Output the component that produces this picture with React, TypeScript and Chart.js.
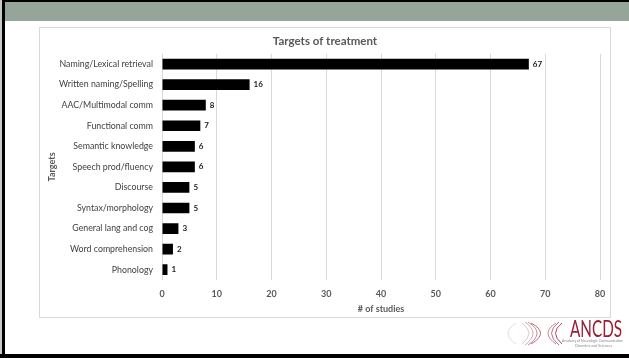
import React, { useEffect, useRef } from "react";
import { Chart, registerables } from "chart.js";

Chart.register(...registerables);

const categories = [
  "Naming/Lexical retrieval",
  "Written naming/Spelling",
  "AAC/Multimodal comm",
  "Functional comm",
  "Semantic knowledge",
  "Speech prod/fluency",
  "Discourse",
  "Syntax/morphology",
  "General lang and cog",
  "Word comprehension",
  "Phonology",
];
const studyCounts = [67, 16, 8, 7, 6, 6, 5, 5, 3, 2, 1];
const chartTitle = "Targets of treatment";
const xAxisTitle = "# of studies";
const yAxisTitle = "Targets";
const xMin = 0;
const xMax = 80;
const xStep = 10;

const FONT = "Lato, 'Open Sans', sans-serif";

const valueLabelPlugin = {
  id: "valueLabels",
  afterDatasetsDraw(chart: any) {
    const { ctx } = chart;
    const meta = chart.getDatasetMeta(0);
    ctx.save();
    ctx.font = `bold 8px ${FONT}`;
    ctx.fillStyle = "#1a1a1a";
    ctx.textAlign = "left";
    ctx.textBaseline = "middle";
    meta.data.forEach((bar: any, i: number) => {
      const v = chart.data.datasets[0].data[i];
      ctx.fillText(String(v), bar.x + 4, bar.y);
    });
    ctx.restore();
  },
};

function ChartBox() {
  const ref = useRef<HTMLCanvasElement | null>(null);
  useEffect(() => {
    if (!ref.current) return;
    const chart = new Chart(ref.current, {
      type: "bar",
      data: {
        labels: categories,
        datasets: [
          {
            data: studyCounts,
            backgroundColor: "#000000",
            borderWidth: 0,
            categoryPercentage: 1,
            barPercentage: 0.52,
          },
        ],
      },
      options: {
        indexAxis: "y",
        animation: false,
        responsive: true,
        maintainAspectRatio: false,
        layout: { padding: { left: 10, right: 10, top: 0, bottom: 1 } },
        plugins: {
          legend: { display: false },
          tooltip: { enabled: false },
          title: {
            display: true,
            text: chartTitle,
            color: "#595959",
            font: { family: FONT, size: 11.5, weight: "bold" },
            padding: { top: 6, bottom: 6 },
          },
        },
        scales: {
          x: {
            min: xMin,
            max: xMax,
            afterFit: (scale: any) => {
              scale.height = 36;
            },
            ticks: {
              stepSize: xStep,
              color: "#595959",
              font: { family: FONT, size: 9, weight: "bold" },
              padding: 3,
              maxRotation: 0,
            },
            grid: {
              color: "#d9d9d9",
              drawTicks: true,
              tickLength: 6,
              tickColor: "rgba(0,0,0,0)",
              lineWidth: 1,
            },
            border: { display: false },
            title: {
              display: true,
              text: xAxisTitle,
              color: "#595959",
              font: { family: FONT, size: 9, weight: "bold" },
              padding: { top: 4, bottom: 2 },
            },
          },
          y: {
            afterFit: (scale: any) => {
              scale.width = 112;
            },
            ticks: {
              color: "#404040",
              font: { family: FONT, size: 8.8 },
              padding: 9,
            },
            grid: { display: false, drawTicks: false },
            border: { display: false },
            title: {
              display: true,
              text: yAxisTitle,
              color: "#595959",
              font: { family: FONT, size: 9, weight: "bold" },
              padding: { top: -3.4, bottom: 0 },
            },
          },
        },
      },
      plugins: [valueLabelPlugin],
    });
    return () => chart.destroy();
  }, []);
  return <canvas ref={ref} />;
}

function Logo() {
  const rightArcs = [
    { d: "M 522 323 Q 536 333 522 344", c: "#d7b9c0" },
    { d: "M 525 322 Q 541 333 525 345", c: "#c794a1" },
    { d: "M 528 322 Q 546 333 528 345", c: "#b56a7c" },
    { d: "M 531 323 Q 550 333 531 344", c: "#a8475c" },
  ];
  const leftArcs = [
    { d: "M 556 323 Q 540 333 556 344", c: "#b56a7c" },
    { d: "M 559 322 Q 544 333 559 345", c: "#a8475c" },
    { d: "M 562 323 Q 549 333 562 344", c: "#9b1d36" },
  ];
  return (
    <svg
      width={629}
      height={358}
      style={{ position: "absolute", left: 0, top: 0, pointerEvents: "none" }}
    >
      <path d="M 516 323 Q 500 333 516 344" fill="none" stroke="#e2cfd4" strokeWidth={0.8} />
      {rightArcs.concat(leftArcs).map((a, i) => (
        <path key={i} d={a.d} fill="none" stroke={a.c} strokeWidth={0.8} />
      ))}
      <text
        x={570}
        y={337}
        fontFamily={FONT}
        fontSize={23}
        fill="#9b1d36"
        textLength={52}
        lengthAdjust="spacingAndGlyphs"
      >
        ANCDS
      </text>
      <text
        x={562}
        y={342}
        fontFamily={FONT}
        fontSize={3.6}
        fill="#8a8a8a"
        textLength={61}
        lengthAdjust="spacingAndGlyphs"
      >
        Academy of Neurologic Communication
      </text>
      <text
        x={575}
        y={347}
        fontFamily={FONT}
        fontSize={3.6}
        fill="#8a8a8a"
        textLength={37}
        lengthAdjust="spacingAndGlyphs"
      >
        Disorders and Sciences
      </text>
    </svg>
  );
}

export default function App() {
  return (
    <div
      style={{
        position: "fixed",
        left: 0,
        top: 0,
        width: 629,
        height: 358,
        background: "#ffffff",
        overflow: "hidden",
      }}
    >
      <div style={{ position: "absolute", left: 0, top: 0, width: 629, height: 2, background: "#000" }} />
      <div style={{ position: "absolute", left: 0, top: 2, width: 629, height: 19, background: "#95a59a" }} />
      <div style={{ position: "absolute", left: 0, top: 0, width: 1.5, height: 358, background: "#c8c8c8" }} />
      <div style={{ position: "absolute", left: 2, top: 0, width: 3, height: 358, background: "#000" }} />
      <div style={{ position: "absolute", left: 0, top: 354, width: 629, height: 4, background: "#000" }} />
      <div
        style={{
          position: "absolute",
          left: 39,
          top: 27,
          width: 572,
          height: 291,
          boxSizing: "border-box",
          border: "1px solid #d9d9d9",
        }}
      >
        <div style={{ position: "absolute", left: 0, top: 0, width: 570, height: 289 }}>
          <ChartBox />
        </div>
      </div>
      <Logo />
    </div>
  );
}
